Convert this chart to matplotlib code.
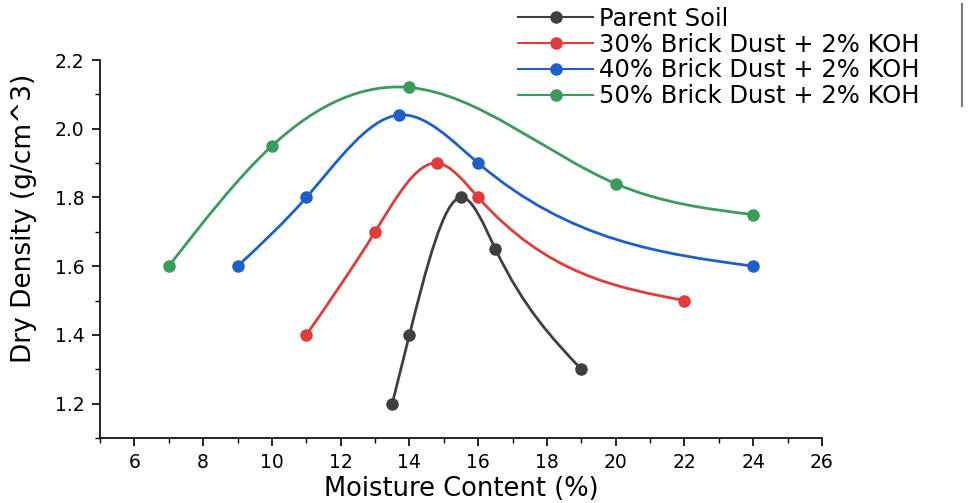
import numpy as np
import matplotlib.pyplot as plt
from matplotlib.path import Path
from matplotlib.patches import PathPatch
from matplotlib.lines import Line2D
from matplotlib.ticker import MultipleLocator

# Compaction test results: moisture content (%) vs dry density (g/cm^3)
parent_mc = [13.5, 14, 15.5, 16.5, 19]
parent_dd = [1.2, 1.4, 1.8, 1.65, 1.3]

bd30_mc = [11, 13, 14.8, 16, 22]
bd30_dd = [1.4, 1.7, 1.9, 1.8, 1.5]

bd40_mc = [9, 11, 13.7, 16, 24]
bd40_dd = [1.6, 1.8, 2.04, 1.9, 1.6]

bd50_mc = [7, 10, 14, 20, 24]
bd50_dd = [1.6, 1.95, 2.12, 1.84, 1.75]

series = [
    (parent_mc, parent_dd, "Parent Soil", "#3f3f3f"),
    (bd30_mc, bd30_dd, "30% Brick Dust + 2% KOH", "#e03c3c"),
    (bd40_mc, bd40_dd, "40% Brick Dust + 2% KOH", "#1f5fc9"),
    (bd50_mc, bd50_dd, "50% Brick Dust + 2% KOH", "#3a9b5c"),
]


def spline_path(x, y):
    """Natural cubic spline through the points, as a Bezier path."""
    x = np.asarray(x, float)
    y = np.asarray(y, float)
    n = len(x)
    h = np.diff(x)
    sec = np.diff(y) / h
    # second derivatives, zero at both ends
    A = np.zeros((n, n))
    b = np.zeros(n)
    A[0, 0] = A[-1, -1] = 1
    for i in range(1, n - 1):
        A[i, i - 1] = h[i - 1]
        A[i, i] = 2 * (h[i - 1] + h[i])
        A[i, i + 1] = h[i]
        b[i] = 6 * (sec[i] - sec[i - 1])
    M = np.linalg.solve(A, b)
    # slopes at both ends of every piece
    m0 = sec - h * (2 * M[:-1] + M[1:]) / 6
    m1 = sec + h * (M[:-1] + 2 * M[1:]) / 6
    verts = [(x[0], y[0])]
    codes = [Path.MOVETO]
    for i in range(n - 1):
        d = h[i] / 3
        verts += [(x[i] + d, y[i] + d * m0[i]),
                  (x[i + 1] - d, y[i + 1] - d * m1[i]),
                  (x[i + 1], y[i + 1])]
        codes += [Path.CURVE4] * 3
    return Path(verts, codes)


fig = plt.figure(figsize=(9.7, 5.03), dpi=100)
ax = fig.add_axes([100 / 970, 65 / 503, 722 / 970, 378 / 503])

handles = []
for mc, dd, label, color in series:
    ax.add_patch(PathPatch(spline_path(mc, dd), facecolor="none",
                           edgecolor=color, lw=2.0, zorder=2))
    ax.plot(mc, dd, "o", color=color, ms=8, zorder=3)
    handles.append(Line2D([], [], color=color, lw=1.5, marker="o", ms=8,
                          label=label))

ax.set_xlim(5, 26)
ax.set_ylim(1.1, 2.2)
ax.xaxis.set_major_locator(MultipleLocator(2))
ax.xaxis.set_minor_locator(MultipleLocator(1))
ax.yaxis.set_major_locator(MultipleLocator(0.2))
ax.yaxis.set_minor_locator(MultipleLocator(0.1))
ax.yaxis.set_major_formatter(plt.FormatStrFormatter("%.1f"))

for side in ["top", "right"]:
    ax.spines[side].set_visible(False)
for side in ["left", "bottom"]:
    ax.spines[side].set_linewidth(1.2)

ax.tick_params(which="major", direction="out", length=6, width=1.2,
               labelsize=13.5, pad=5)
ax.tick_params(which="minor", direction="out", length=3.5, width=1.0)

ax.set_xlabel("Moisture Content (%)", fontsize=18.5, labelpad=3)
ax.set_ylabel("Dry Density (g/cm^3)", fontsize=19)
ax.yaxis.set_label_coords(-0.087, 0.58)

fig.legend(handles=handles, loc="upper left",
           bbox_to_anchor=(518 / 970, 1 - 7 / 503), frameon=False,
           fontsize=17.5, handlelength=3.1, handletextpad=0.25,
           labelspacing=0.07, borderpad=0, borderaxespad=0)

# thin rule along the right side of the legend
fig.add_artist(Line2D([962 / 970, 962 / 970], [1 - 4 / 503, 1 - 106 / 503],
                      transform=fig.transFigure, color="#7a7a7a", lw=1.5))

fig.savefig("out.png", dpi=100)
